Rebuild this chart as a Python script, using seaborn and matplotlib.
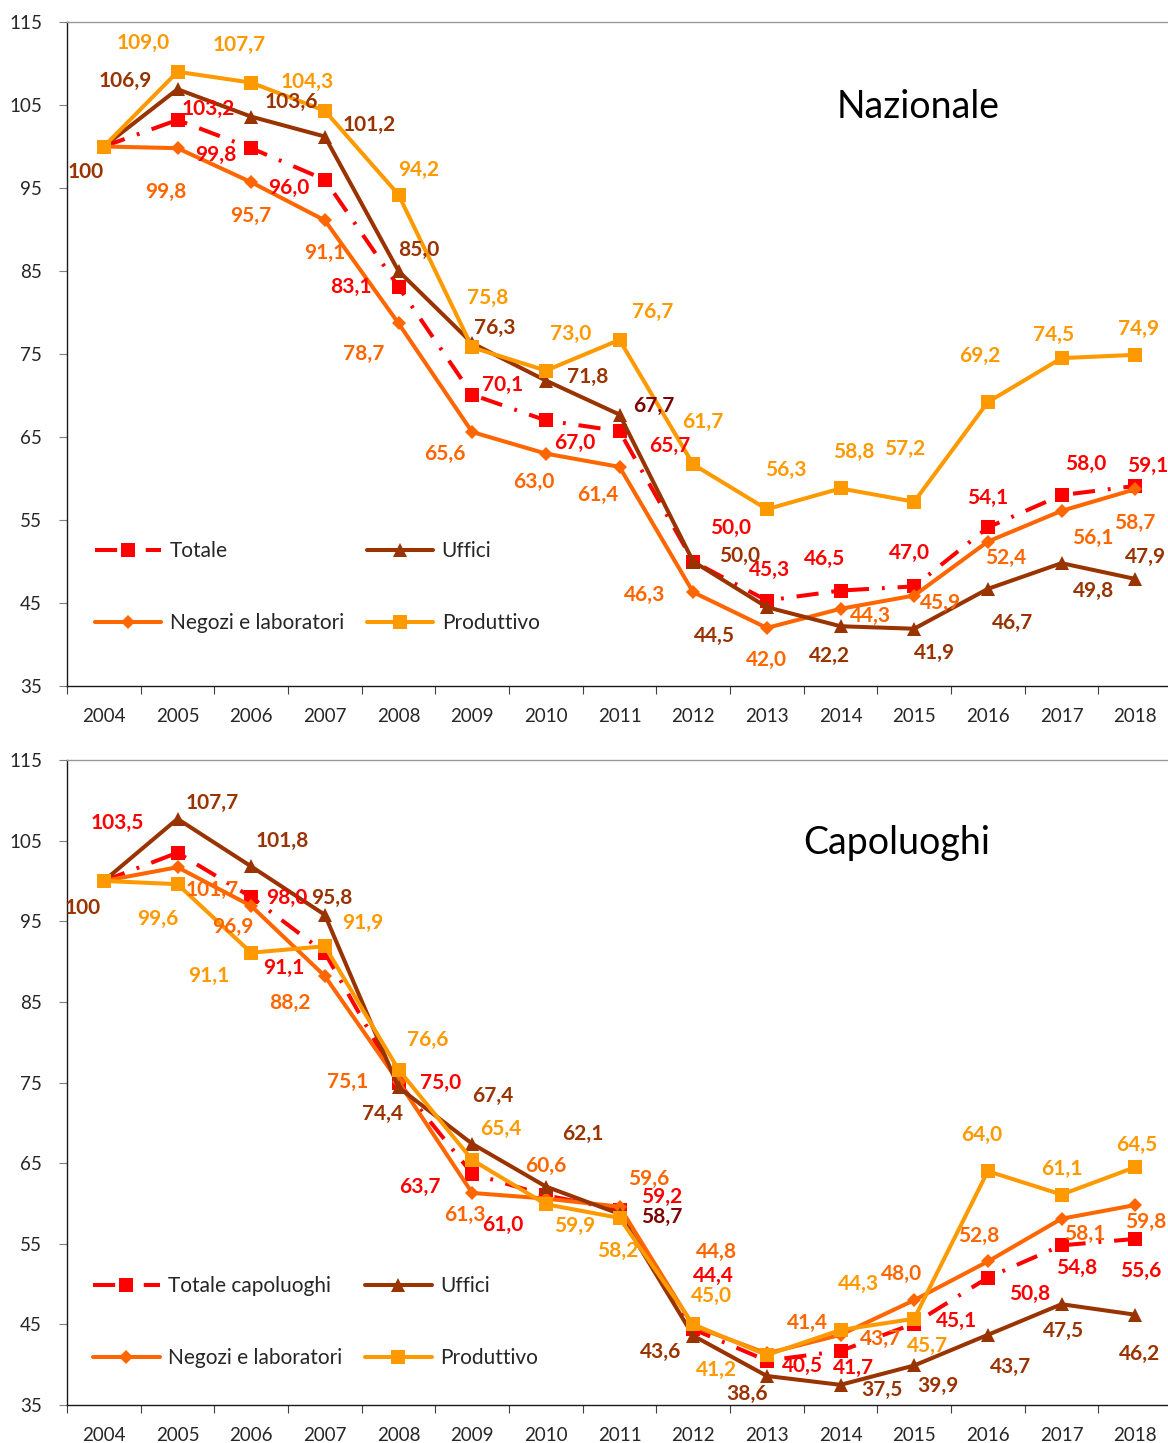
import matplotlib
matplotlib.use("Agg")
import matplotlib.pyplot as plt
import seaborn as sns
import pandas as pd

# ---------------- data ----------------
years = ["2004", "2005", "2006", "2007", "2008", "2009", "2010", "2011",
         "2012", "2013", "2014", "2015", "2016", "2017", "2018"]

naz_totale = [100, 103.2, 99.8, 96.0, 83.1, 70.1, 67.0, 65.7, 50.0, 45.3, 46.5, 47.0, 54.1, 58.0, 59.1]
naz_uffici = [100, 106.9, 103.6, 101.2, 85.0, 76.3, 71.8, 67.7, 50.0, 44.5, 42.2, 41.9, 46.7, 49.8, 47.9]
naz_negozi = [100, 99.8, 95.7, 91.1, 78.7, 65.6, 63.0, 61.4, 46.3, 42.0, 44.3, 45.9, 52.4, 56.1, 58.7]
naz_produttivo = [100, 109.0, 107.7, 104.3, 94.2, 75.8, 73.0, 76.7, 61.7, 56.3, 58.8, 57.2, 69.2, 74.5, 74.9]

cap_totale = [100, 103.5, 98.0, 91.1, 75.0, 63.7, 61.0, 59.2, 44.4, 40.5, 41.7, 45.1, 50.8, 54.8, 55.6]
cap_uffici = [100, 107.7, 101.8, 95.8, 74.4, 67.4, 62.1, 58.7, 43.6, 38.6, 37.5, 39.9, 43.7, 47.5, 46.2]
cap_negozi = [100, 101.7, 96.9, 88.2, 75.1, 61.3, 60.6, 59.6, 44.8, 41.4, 43.7, 48.0, 52.8, 58.1, 59.8]
cap_produttivo = [100, 99.6, 91.1, 91.9, 76.6, 65.4, 59.9, 58.2, 45.0, 41.2, 44.3, 45.7, 64.0, 61.1, 64.5]

# ---------------- label offsets (pixels: dx right, dy down) ----------------
off_naz = {
    "tot": [None, (31, -11), (-35, 7), (-36, 8), (-48, 0), (30, -10), (29, 23), (50, 15),
            (37, -34), (3, -31), (-16, -32), (-5, -33), (0, -30), (24, -31), (13, -20)],
    "uff": [(-18, 26), (-52, -8), (40, -15), (44, -12), (20, -21), (23, -15), (42, -4), (34, -9),
            (46, -6), (-52, 29), (-11, 30), (20, 24), (25, 34), (32, 28), (10, -22)],
    "neg": [None, (-12, 44), (0, 34), (0, 33), (-35, 31), (-27, 22), (-12, 28), (-22, 28),
            (-49, 3), (0, 32), (30, 7), (26, 7), (18, 16), (31, 27), (0, 34)],
    "pro": [None, (-34, -29), (-12, -38), (-18, -29), (20, -25), (16, -49), (25, -37), (33, -28),
            (10, -42), (19, -39), (13, -36), (-9, -53), (-8, -46), (-8, -23), (3, -26)],
}
off_cap = {
    "tot": [None, (-60, -30), (36, 1), (-41, 15), (42, 0), (-52, 13), (-43, 30), (42, -13),
            (20, -53), (36, 5), (13, 17), (42, -3), (42, 16), (15, 23), (6, 32)],
    "uff": [(-21, 27), (35, -16), (31, -25), (7, -17), (-16, 27), (21, -48), (37, -53), (42, 3),
            (-33, 16), (-20, 18), (41, 5), (24, 20), (23, 32), (2, 27), (4, 39)],
    "neg": [None, (35, 23), (-18, 21), (-35, 27), (-51, 0), (-7, 22), (0, -33), (29, -28),
            (23, -74), (41, -30), (40, 4), (-13, -26), (-9, -26), (23, 15), (11, 17)],
    "pro": [None, (-20, 35), (-42, 23), (38, -23), (29, -30), (29, -31), (29, 22), (-2, 33),
            (18, -28), (-50, 15), (18, -46), (13, 27), (-6, -36), (0, -26), (2, -22)],
}

# ---------------- style ----------------
sns.set_style("white")
plt.rcParams["font.family"] = ["Lato", "DejaVu Sans"]

C_TOT = "#FF0000"
C_UFF = "#993300"
C_NEG = "#FF6600"
C_PRO = "#FF9900"
C_DARK = "#7F0000"

W, H = 1168, 1443
fig = plt.figure(figsize=(W / 100, H / 100), dpi=100)

ax_w = 1105 / W
ax1 = fig.add_axes([67 / W, 1 - 686 / H, ax_w, 664 / H])
ax2 = fig.add_axes([67 / W, 1 - 1405 / H, ax_w, 645 / H])

LW = 2.9


def fmt(v):
    if v == 100:
        return "100"
    return f"{v:.1f}".replace(".", ",")


def draw(ax, tot, uff, neg, pro, tot_label, offs, dark_idx, title, title_x, legend_anchor):
    x = list(range(len(years)))
    df = pd.DataFrame({"x": x, "tot": tot, "uff": uff, "neg": neg, "pro": pro})
    sns.lineplot(data=df, x="x", y="tot", ax=ax, color=C_TOT, lw=LW,
                 linestyle=(0, (5.5, 3.2, 0.7, 3.2)),
                 marker="s", markersize=10, markeredgecolor=C_TOT, markeredgewidth=0,
                 label=tot_label, zorder=3)
    sns.lineplot(data=df, x="x", y="neg", ax=ax, color=C_NEG, lw=LW,
                 marker="D", markersize=7.5, markeredgecolor=C_NEG, markeredgewidth=0,
                 label="Negozi e laboratori", zorder=4)
    sns.lineplot(data=df, x="x", y="uff", ax=ax, color=C_UFF, lw=LW,
                 marker="^", markersize=10, markeredgecolor=C_UFF, markeredgewidth=0,
                 label="Uffici", zorder=5)
    sns.lineplot(data=df, x="x", y="pro", ax=ax, color=C_PRO, lw=LW,
                 marker="s", markersize=10, markeredgecolor=C_PRO, markeredgewidth=0,
                 label="Produttivo", zorder=6)

    series = {"tot": (tot, C_TOT), "uff": (uff, C_UFF), "neg": (neg, C_NEG), "pro": (pro, C_PRO)}
    for key, (vals, col) in series.items():
        for i, v in enumerate(vals):
            o = offs[key][i]
            if o is None:
                continue
            c = col
            if key == "uff" and i == dark_idx:
                c = C_DARK
            ax.annotate(fmt(v), xy=(i, v), xytext=(o[0], -o[1]), textcoords="offset pixels",
                        ha="center", va="center", fontsize=15, fontweight="bold",
                        color=c, zorder=10)

    ax.set_xlim(-0.5, 14.5)
    ax.set_ylim(35, 115)
    ax.set_yticks(range(35, 116, 10))
    ax.set_yticklabels([str(t) for t in range(35, 116, 10)], fontsize=13.5)
    ax.set_xticks([i - 0.5 for i in range(16)])
    ax.set_xticklabels([])
    ax.set_xticks(x, minor=True)
    ax.set_xticklabels(years, minor=True, fontsize=13.5)
    ax.tick_params(axis="x", which="major", length=6, width=0.8, color="#404040", direction="out", bottom=True)
    ax.tick_params(axis="x", which="minor", length=0, pad=16, bottom=True)
    ax.tick_params(axis="y", which="major", length=6, width=0.8, color="#808080", direction="out", left=True, pad=12)
    ax.set_xlabel("")
    ax.set_ylabel("")
    ax.grid(False)
    for s in ["left", "bottom"]:
        ax.spines[s].set_color("#1a1a1a")
        ax.spines[s].set_linewidth(1.0)
    ax.spines["top"].set_color("#999999")
    ax.spines["top"].set_linewidth(1.0)
    ax.spines["right"].set_visible(False)

    ax.text(title_x, 0.872, title, transform=ax.transAxes,
            ha="center", va="center", fontsize=27, color="black")

    handles, labels = ax.get_legend_handles_labels()
    order = [tot_label, "Negozi e laboratori", "Uffici", "Produttivo"]
    hmap = dict(zip(labels, handles))
    ax.legend([hmap[l] for l in order], order, ncol=2, loc="upper left",
              bbox_to_anchor=legend_anchor, frameon=False, fontsize=15,
              handlelength=3.2, handletextpad=0.4, columnspacing=1.1,
              labelspacing=2.5, borderpad=0, borderaxespad=0, numpoints=1)


draw(ax1, naz_totale, naz_uffici, naz_negozi, naz_produttivo, "Totale", off_naz, 7,
     "Nazionale", 0.770, (0.025, 0.218))
draw(ax2, cap_totale, cap_uffici, cap_negozi, cap_produttivo, "Totale capoluoghi", off_cap, 7,
     "Capoluoghi", 0.751, (0.0235, 0.200))

fig.savefig("out.png", dpi=100)
